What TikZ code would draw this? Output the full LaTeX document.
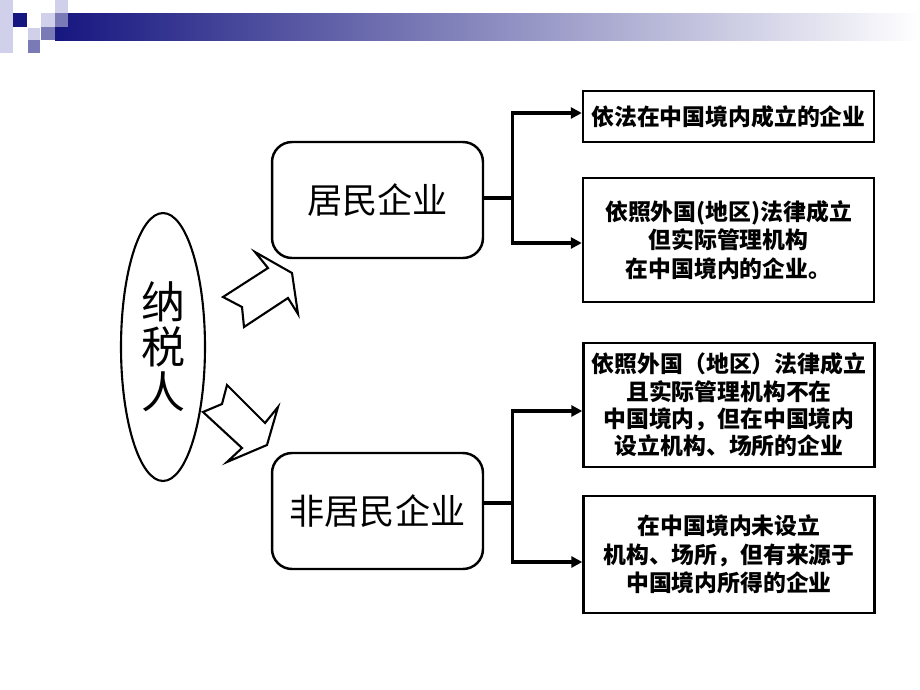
\documentclass[tikz,border=0pt]{standalone}
\usepackage{fontspec}
\setmainfont{Noto Sans CJK SC}
\usetikzlibrary{arrows.meta,shapes.geometric}
\definecolor{navy}{RGB}{22,22,128}
\definecolor{midblue}{RGB}{122,122,182}
\definecolor{paleblue}{RGB}{208,208,234}
\tikzset{
	kind/.style={draw, line width=1.4pt, rounded corners=0.4cm, minimum width=4.22cm, minimum height=2.32cm, inner sep=0pt, font=\fontsize{20}{24}\selectfont},
	desc/.style={draw, line width=1.4pt, minimum width=5.82cm, align=center, inner sep=0pt, font=\fontsize{13}{15.5}\selectfont\bfseries},
	link/.style={line width=1.8pt, -{Triangle[length=2.2mm,width=2.2mm]}},
	blockarrow/.style={draw, line width=1.2pt, fill=white}
}

\begin{document}
\begin{tikzpicture}[x=0.02cm, y=-0.02cm]
		%%%%% START %%%%%
		\useasboundingbox (0,0) rectangle (920,690);
		
		% title bar
		\shade[left color=navy, right color=white] (55,13) rectangle (920,40);
		\fill[paleblue] (0,0) rectangle (13,53);
		\fill[navy] (13,13) rectangle (27,27);
		\fill[paleblue] (28,28) rectangle (40,40);
		\fill[midblue] (28,40) rectangle (40,53);
		\fill[paleblue] (41,13) rectangle (55,27);
		\fill[midblue] (41,27) rectangle (55,40);
		\fill[paleblue] (55,0) rectangle (68,13);
		\fill[midblue] (55,13) rectangle (68,27);
		
		\node[draw, ellipse, line width=1.2pt, minimum width=1.68cm, minimum height=5.36cm, inner sep=0pt, align=center, font=\fontsize{25}{25.5}\selectfont] (nsr) at (163,347) {纳\\税\\人};
		
		\node[kind] (jm) at (377.5,200) {居民企业};
		\node[kind] (fjm) at (377.5,511) {非居民企业};
		
		\node[desc, minimum height=1.02cm] (ja) at (728.5,116.5) {依法在中国境内成立的企业};
		\node[desc, minimum height=2.48cm, font=\fontsize{13}{16.2}\selectfont\bfseries] (jb) at (728.5,240) {依照外国(地区)法律成立\\但实际管理机构\\在中国境内的企业。};
		\node[desc, minimum height=2.48cm] (fa) at (729,405) {依照外国（地区）法律成立\\且实际管理机构不在\\中国境内，但在中国境内\\设立机构、场所的企业};
		\node[desc, minimum height=2.34cm, font=\fontsize{13}{16.2}\selectfont\bfseries] (fb) at (729,554.5) {在中国境内未设立\\机构、场所，但有来源于\\中国境内所得的企业};
		
		% block arrows
		\draw[blockarrow] (223,297) -- (268,268) -- (255,252) -- (292,273) -- (298,314) -- (288,298) -- (244,327) -- (242,307) -- cycle;
		\draw[blockarrow] (227,385) -- (265,423) -- (278,407) -- (267,445) -- (227,462) -- (242,448) -- (203,412) -- (222,404) -- cycle;
		
		% connectors
		\draw[line width=1.8pt] ([yshift=0.04cm]jm.east) -- ++(28,0) coordinate (jsplit);
		\draw[link] (jsplit) |- ([yshift=0.07cm]ja.west);
		\draw[link] (jsplit) |- ([yshift=-0.06cm]jb.west);
		
		\draw[line width=1.8pt] ([yshift=0.16cm]fjm.east) -- ++(28,0) coordinate (fsplit);
		\draw[link] (fsplit) |- ([yshift=-0.12cm]fa.west);
		\draw[link] (fsplit) |- ([yshift=-0.15cm]fb.west);
		
		%%%%% END %%%%%
\end{tikzpicture}
\end{document}
